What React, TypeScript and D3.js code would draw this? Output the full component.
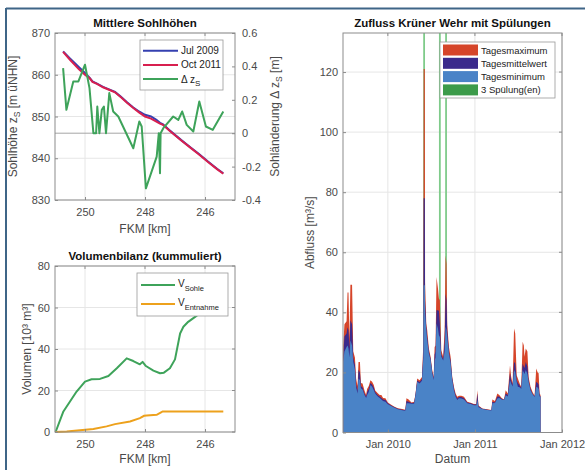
import { useEffect, useRef } from 'react'
import * as d3 from 'd3'

// Mittlere Sohlhöhen
const kmProfile = [250.73, 250.5, 250.2, 250.0, 249.85, 249.75, 249.6, 249.4, 249.2, 249.0, 248.8, 248.6, 248.4, 248.2, 248.0, 247.8, 247.62, 247.5, 247.4, 247.2, 247.0, 246.8, 246.5, 246.2, 245.9, 245.6, 245.39]
const zJul2009 = [865.6, 863.9, 861.8, 860.4, 859.3, 858.4, 857.9, 857.1, 856.5, 855.9, 854.7, 853.4, 852.2, 851.2, 850.4, 850.0, 849.2, 848.5, 848.1, 846.8, 845.6, 844.4, 842.7, 841.0, 839.2, 837.5, 836.4]
const zOct2011 = [865.5, 863.6, 861.3, 860.0, 859.2, 858.3, 857.8, 857.0, 856.4, 855.8, 854.6, 853.3, 852.1, 851.0, 850.0, 849.5, 848.8, 848.3, 848.0, 846.7, 845.5, 844.3, 842.6, 840.9, 839.1, 837.4, 836.3]
const kmDelta = [250.73, 250.62, 250.39, 250.22, 250.0, 249.85, 249.72, 249.63, 249.59, 249.52, 249.44, 249.37, 249.3, 249.19, 249.06, 248.89, 248.39, 248.19, 248.11, 247.97, 247.61, 247.54, 247.5, 247.48, 247.39, 247.06, 246.89, 246.76, 246.61, 246.39, 246.19, 245.97, 245.74, 245.39]
const deltaZ = [0.39, 0.14, 0.31, 0.31, 0.41, 0.27, 0.0, 0.0, 0.16, 0.0, 0.14, 0.16, 0.0, 0.24, 0.13, 0.1, -0.09, 0.07, 0.04, -0.33, -0.14, 0.0, -0.24, 0.0, 0.03, 0.1, 0.08, 0.13, 0.05, 0.01, 0.19, 0.04, 0.02, 0.13]

// Volumenbilanz
const kmSohle = [250.98, 250.72, 250.5, 250.28, 250.0, 249.78, 249.5, 249.22, 248.94, 248.61, 248.39, 248.17, 248.08, 247.97, 247.72, 247.5, 247.37, 247.17, 247.0, 246.83, 246.72, 246.56, 246.33, 246.1, 245.8, 245.6, 245.39]
const vSohle = [0, 9.9, 14.7, 19.5, 24.3, 25.4, 25.6, 27, 30.7, 35.5, 34.2, 32.6, 33.8, 31.8, 29.6, 28.3, 28.6, 30.7, 35, 47.5, 50.7, 53.1, 55.5, 58, 61, 63, 65]
const kmEntnahme = [250.98, 250.61, 250.17, 249.72, 249.28, 249.0, 248.5, 248.17, 248.03, 247.94, 247.61, 247.45, 247.41, 245.39]
const vEntnahme = [0, 0.3, 0.8, 1.4, 2.7, 3.8, 5.1, 6.7, 7.8, 8.0, 8.3, 9.6, 9.9, 9.9]

// Zufluss Krüner Wehr
const flowDates = [
  '2009-06-28', '2009-07-03', '2009-07-12', '2009-07-16', '2009-07-20', '2009-07-24', '2009-07-28', '2009-08-04', '2009-08-09', '2009-08-16',
  '2009-08-21', '2009-08-27', '2009-08-31', '2009-09-06', '2009-09-10', '2009-09-17', '2009-09-25', '2009-10-02', '2009-10-06', '2009-10-13',
  '2009-10-20', '2009-10-27', '2009-11-03', '2009-11-09', '2009-11-14', '2009-11-21', '2009-11-28', '2009-12-05', '2009-12-12', '2009-12-22',
  '2010-01-01', '2010-01-15', '2010-01-29', '2010-02-12', '2010-03-02', '2010-03-15', '2010-03-20', '2010-03-29', '2010-04-10', '2010-04-21',
  '2010-04-27', '2010-05-04', '2010-05-14', '2010-05-24', '2010-05-30', '2010-05-31', '2010-06-05', '2010-06-06', '2010-06-11', '2010-06-15', '2010-06-22',
  '2010-06-29', '2010-07-06', '2010-07-12', '2010-07-16', '2010-07-20', '2010-07-24', '2010-07-30', '2010-08-03', '2010-08-07', '2010-08-13',
  '2010-08-21', '2010-08-27', '2010-08-31', '2010-09-04', '2010-09-07', '2010-09-14', '2010-09-21', '2010-09-28', '2010-10-05', '2010-10-12',
  '2010-10-19', '2010-10-26', '2010-11-05', '2010-11-16', '2010-11-30', '2010-12-14', '2010-12-28', '2011-01-07', '2011-01-11', '2011-01-16',
  '2011-02-01', '2011-02-22', '2011-03-11', '2011-03-15', '2011-03-26', '2011-04-05', '2011-04-13', '2011-04-23', '2011-05-03', '2011-05-10',
  '2011-05-19', '2011-05-28', '2011-06-02', '2011-06-08', '2011-06-14', '2011-06-19', '2011-06-25', '2011-06-30', '2011-07-09', '2011-07-14',
  '2011-07-20', '2011-07-25', '2011-07-28', '2011-08-02', '2011-08-09', '2011-08-14', '2011-08-22', '2011-08-30', '2011-09-08', '2011-09-15',
  '2011-09-21', '2011-09-25', '2011-09-29', '2011-10-03',
]
const qMax = [
  29, 36, 37, 46.6, 46.6, 31, 49.2, 49.2, 27, 25,
  18, 15.5, 23.5, 23.5, 16.5, 16.3, 14, 12.5, 14.5, 15.5,
  17.4, 16.9, 15.8, 14, 13.6, 13, 12.5, 12.5, 11.5, 11.4,
  10, 9.2, 8.6, 8.1, 7.8, 7.6, 11.4, 11, 10, 10.2,
  13, 18, 17.4, 18.5, 30, 121, 121, 50, 36.3, 34, 28,
  25.2, 20.8, 18.5, 28.5, 29, 51.8, 48, 44.6, 44, 27.4,
  25.2, 34, 59, 56.2, 35.7, 28.5, 25.2, 18.5, 15.2, 13,
  11.9, 12.2, 12.2, 11.9, 10.2, 9.9, 9.5, 9.5, 14.1, 9,
  8, 7.7, 7.5, 11, 10.5, 13, 12.5, 11.5, 11, 14.1,
  13, 22.4, 18.5, 16.3, 34.6, 33, 19.1, 18, 16, 15.2,
  30.2, 29, 25.2, 28, 27, 18.5, 15.2, 13.6, 12.2, 21.3,
  20, 19.7, 13, 12.5,
]
const qMean = [
  25.7, 32, 33, 35, 34, 28, 37.4, 36, 25, 22.5,
  16, 14, 20.8, 20, 15.5, 15, 13, 12, 13.5, 14.5,
  16.5, 16, 15, 13.5, 13, 12.3, 12, 11.5, 11, 10.8,
  9.7, 9, 8.4, 7.9, 7.6, 7.4, 10.5, 10.2, 9.8, 9.9,
  12.7, 17.3, 16.8, 17.8, 27, 78, 78, 44, 35.2, 32, 27,
  24.6, 20.2, 18, 26, 27, 40.7, 40.7, 40.5, 36.3, 26,
  24.5, 30, 46.2, 44, 34, 27, 24, 18, 14.6, 12.4,
  11.3, 11.8, 11.8, 11.4, 10, 9.7, 9.3, 9.3, 13, 8.7,
  7.9, 7.6, 7.4, 10.2, 10, 12, 12, 11.2, 10.9, 13,
  12.5, 19.7, 17.3, 15.8, 23.5, 23, 17.5, 16.5, 15.5, 14.8,
  22.9, 22, 21.5, 23.5, 22, 17.5, 14.5, 13, 12, 16.9,
  16.5, 16, 12.5, 12,
]
const qMin = [
  23.5, 27, 28.5, 29, 28, 25, 30.7, 29, 23.5, 21,
  15, 13, 18, 17.5, 14.7, 14.3, 12.5, 11.5, 12.5, 13.5,
  15.8, 15.2, 14.1, 13, 12.5, 11.9, 11.5, 11, 10.5, 10.2,
  9.4, 8.8, 8.2, 7.7, 7.4, 7.2, 9.7, 9.7, 9.6, 9.6,
  12.4, 16.9, 16.3, 17.2, 25, 49, 49, 39.6, 34, 30.7, 26.3,
  24.1, 19.7, 17.5, 24, 25, 36.3, 34.6, 32.4, 31.8, 25.2,
  24, 27, 35.2, 34, 31.8, 26.3, 23, 17.4, 14, 11.9,
  10.8, 11.4, 11.3, 11, 9.7, 9.5, 9.1, 9.1, 10.8, 8.4,
  7.8, 7.5, 7.3, 9.7, 9.8, 11.3, 11.5, 11, 10.8, 12.4,
  12, 17.4, 16.3, 15.3, 20.8, 20, 16.9, 15.2, 15, 14.5,
  20.8, 20, 19.5, 20.8, 19.5, 16.9, 14.1, 12.8, 11.8, 15.2,
  15, 14.5, 12, 11.9,
]
const flushDates = ['2010-06-02', '2010-08-07', '2010-09-02']

const font = '"Liberation Sans", Arial, Helvetica, sans-serif'
const tickColor = '#4a4a4a'
const gridColor = '#e6e6e6'
const boxColor = '#8c8c8c'
const colors = {
  jul: '#3540b0',
  oct: '#d81f4f',
  delta: '#3ea35a',
  sohle: '#3ea35a',
  entnahme: '#eda11c',
  max: '#d6452a',
  mean: '#3b2a8c',
  min: '#4a83c7',
  flush: '#3c9b4a',
}

const topBox = { x0: 55, x1: 235, y0: 33, y1: 200 }
const volBox = { x0: 55, x1: 235, y0: 266, y1: 432 }
const flowBox = { x0: 343, x1: 562, y0: 33, y1: 432.5 }

const parse = d3.timeParse('%Y-%m-%d')

export default function App() {
  const refs = {
    zAxis: useRef<SVGGElement | null>(null),
    dzAxis: useRef<SVGGElement | null>(null),
    kmAxisTop: useRef<SVGGElement | null>(null),
    vAxis: useRef<SVGGElement | null>(null),
    kmAxisVol: useRef<SVGGElement | null>(null),
    qAxis: useRef<SVGGElement | null>(null),
    tAxis: useRef<SVGGElement | null>(null),
  }

  const xKmTop = d3.scaleLinear().domain([251, 245]).range([topBox.x0, topBox.x1])
  const xKmVol = d3.scaleLinear().domain([251, 245]).range([volBox.x0, volBox.x1])
  const yZ = d3.scaleLinear().domain([830, 870]).range([topBox.y1, topBox.y0])
  const yDz = d3.scaleLinear().domain([-0.4, 0.6]).range([topBox.y1, topBox.y0])
  const yV = d3.scaleLinear().domain([0, 80]).range([volBox.y1, volBox.y0])
  const xT = d3.scaleTime().domain([parse('2009-06-27')!, parse('2012-01-01')!]).range([flowBox.x0, flowBox.x1])
  const yQ = d3.scaleLinear().domain([0, 133]).range([flowBox.y1, flowBox.y0])

  const kmTicks = [250, 248, 246]
  const zTicks = [830, 840, 850, 860, 870]
  const dzTicks = [-0.4, -0.2, 0, 0.2, 0.4, 0.6]
  const vTicks = [0, 20, 40, 60, 80]
  const qTicks = [0, 20, 40, 60, 80, 100, 120]
  const tTicks = ['2010-01-01', '2011-01-01', '2012-01-01'].map((d) => parse(d)!)

  useEffect(() => {
    const style = (node: SVGGElement | null, axis: d3.Axis<any>) => {
      if (!node) return
      const g = d3.select(node)
      g.call(axis)
      g.select('.domain').remove()
      g.selectAll('.tick line').attr('stroke', boxColor)
      g.selectAll('.tick text').attr('fill', tickColor).attr('font-size', 11).attr('font-family', font)
    }
    const fmtDz = (v: number) => (v === 0 ? '0' : v.toFixed(1))
    const fmtInt = (v: d3.NumberValue) => String(Math.round(+v))
    style(refs.zAxis.current, d3.axisLeft(yZ).tickValues(zTicks).tickSize(-3).tickPadding(5).tickFormat(fmtInt))
    style(refs.dzAxis.current, d3.axisRight(yDz).tickValues(dzTicks).tickSize(-3).tickPadding(7).tickFormat((v) => fmtDz(+v)))
    style(refs.kmAxisTop.current, d3.axisBottom(xKmTop).tickValues(kmTicks).tickSize(-3).tickPadding(8).tickFormat(fmtInt))
    style(refs.vAxis.current, d3.axisLeft(yV).tickValues(vTicks).tickSize(-3).tickPadding(5).tickFormat(fmtInt))
    style(refs.kmAxisVol.current, d3.axisBottom(xKmVol).tickValues(kmTicks).tickSize(-3).tickPadding(8).tickFormat(fmtInt))
    style(refs.qAxis.current, d3.axisLeft(yQ).tickValues(qTicks).tickSize(-3).tickPadding(5).tickFormat(fmtInt))
    style(refs.tAxis.current, d3.axisBottom(xT).tickValues(tTicks).tickSize(-3).tickPadding(8).tickFormat((d) => d3.timeFormat('%b %Y')(d as Date)))
  }, [])

  const lineKm = (xs: number[], ys: number[], x: d3.ScaleLinear<number, number>, y: d3.ScaleLinear<number, number>) =>
    d3.line<number>().x((_, i) => x(xs[i])).y((v) => y(v))(ys) ?? ''

  const flowData = flowDates.map((d, i) => ({ date: parse(d)!, max: qMax[i], mean: qMean[i], min: qMin[i] }))
  const areaFor = (key: 'max' | 'mean' | 'min') =>
    d3
      .area<(typeof flowData)[number]>()
      .x((d) => xT(d.date))
      .y0(yQ(0))
      .y1((d) => yQ(d[key]))(flowData) ?? ''

  return (
    <svg width={585} height={470} style={{ position: 'absolute', left: 0, top: 0, background: '#fff' }} fontFamily={font}>
      {/* frame */}
      <line x1={6} y1={8.5} x2={585} y2={8.5} stroke="#3f6587" strokeWidth={2} />
      <line x1={6} y1={8} x2={6} y2={470} stroke="#3f6587" strokeWidth={2} />

      {/* ---------- Mittlere Sohlhöhen ---------- */}
      {kmTicks.map((k) => (
        <line key={k} x1={xKmTop(k)} x2={xKmTop(k)} y1={topBox.y0} y2={topBox.y1} stroke={gridColor} />
      ))}
      {zTicks.map((z) => (
        <line key={z} x1={topBox.x0} x2={topBox.x1} y1={yZ(z)} y2={yZ(z)} stroke={gridColor} />
      ))}
      <line x1={topBox.x0} x2={topBox.x1} y1={yDz(0)} y2={yDz(0)} stroke="#a6a6a6" strokeWidth={1} />
      <path d={lineKm(kmProfile, zJul2009, xKmTop, yZ)} fill="none" stroke={colors.jul} strokeWidth={2} />
      <path d={lineKm(kmProfile, zOct2011, xKmTop, yZ)} fill="none" stroke={colors.oct} strokeWidth={2} />
      <path d={lineKm(kmDelta, deltaZ, xKmTop, yDz)} fill="none" stroke={colors.delta} strokeWidth={2} strokeLinejoin="round" />
      <rect x={topBox.x0} y={topBox.y0} width={topBox.x1 - topBox.x0} height={topBox.y1 - topBox.y0} fill="none" stroke={boxColor} />
      {kmTicks.map((k) => (
        <line key={k} x1={xKmTop(k)} x2={xKmTop(k)} y1={topBox.y0} y2={topBox.y0 + 3} stroke={boxColor} />
      ))}
      <g ref={refs.zAxis} transform={`translate(${topBox.x0},0)`} />
      <g ref={refs.dzAxis} transform={`translate(${topBox.x1},0)`} />
      <g ref={refs.kmAxisTop} transform={`translate(0,${topBox.y1})`} />
      <text x={(topBox.x0 + topBox.x1) / 2} y={27} textAnchor="middle" fontSize={11.5} fontWeight="bold" fill="#111">
        Mittlere Sohlhöhen
      </text>
      <text x={(topBox.x0 + topBox.x1) / 2} y={233} textAnchor="middle" fontSize={12} fill={tickColor}>
        FKM [km]
      </text>
      <text transform={`translate(17 ${(topBox.y0 + topBox.y1) / 2}) rotate(-90)`} textAnchor="middle" fontSize={12} fill={tickColor}>
        Sohlhöhe z<tspan dy={3} fontSize={8.5}>S</tspan>
        <tspan dy={-3}> [m üNHN]</tspan>
      </text>
      <text transform={`translate(279 ${(topBox.y0 + topBox.y1) / 2}) rotate(-90)`} textAnchor="middle" fontSize={12} fill={tickColor}>
        Sohländerung Δ z<tspan dy={3} fontSize={8.5}>S</tspan>
        <tspan dy={-3}> [m]</tspan>
      </text>
      <g transform="translate(140,40)">
        <rect width={83} height={50} fill="#fff" stroke="#9a9a9a" strokeWidth={0.8} />
        {[
          { label: 'Jul 2009', color: colors.jul },
          { label: 'Oct 2011', color: colors.oct },
          { label: 'Δ z', color: colors.delta, sub: 'S' },
        ].map((e, i) => (
          <g key={e.label} transform={`translate(0,${10.7 + i * 14.2})`}>
            <line x1={3} x2={38} y1={0} y2={0} stroke={e.color} strokeWidth={2} />
            <text x={41} y={3.5} fontSize={10} fill="#222">
              {e.label}
              {e.sub && (
                <tspan dy={3} fontSize={8}>
                  {e.sub}
                </tspan>
              )}
            </text>
          </g>
        ))}
      </g>

      {/* ---------- Volumenbilanz ---------- */}
      {kmTicks.map((k) => (
        <line key={k} x1={xKmVol(k)} x2={xKmVol(k)} y1={volBox.y0} y2={volBox.y1} stroke={gridColor} />
      ))}
      {vTicks.map((v) => (
        <line key={v} x1={volBox.x0} x2={volBox.x1} y1={yV(v)} y2={yV(v)} stroke={gridColor} />
      ))}
      <path d={lineKm(kmSohle, vSohle, xKmVol, yV)} fill="none" stroke={colors.sohle} strokeWidth={2} strokeLinejoin="round" />
      <path d={lineKm(kmEntnahme, vEntnahme, xKmVol, yV)} fill="none" stroke={colors.entnahme} strokeWidth={2} />
      <rect x={volBox.x0} y={volBox.y0} width={volBox.x1 - volBox.x0} height={volBox.y1 - volBox.y0} fill="none" stroke={boxColor} />
      {kmTicks.map((k) => (
        <line key={k} x1={xKmVol(k)} x2={xKmVol(k)} y1={volBox.y0} y2={volBox.y0 + 3} stroke={boxColor} />
      ))}
      {vTicks.map((v) => (
        <line key={v} x1={volBox.x1 - 3} x2={volBox.x1} y1={yV(v)} y2={yV(v)} stroke={boxColor} />
      ))}
      <g ref={refs.vAxis} transform={`translate(${volBox.x0},0)`} />
      <g ref={refs.kmAxisVol} transform={`translate(0,${volBox.y1})`} />
      <text x={(volBox.x0 + volBox.x1) / 2} y={260} textAnchor="middle" fontSize={11.5} fontWeight="bold" fill="#111">
        Volumenbilanz (kummuliert)
      </text>
      <text x={(volBox.x0 + volBox.x1) / 2} y={463} textAnchor="middle" fontSize={12} fill={tickColor}>
        FKM [km]
      </text>
      <text transform={`translate(31 ${(volBox.y0 + volBox.y1) / 2}) rotate(-90)`} textAnchor="middle" fontSize={12} fill={tickColor}>
        Volumen [10³ m³]
      </text>
      <g transform="translate(137,273)">
        <rect width={91} height={43} fill="#fff" stroke="#9a9a9a" strokeWidth={0.8} />
        {[
          { label: 'Sohle', color: colors.sohle },
          { label: 'Entnahme', color: colors.entnahme },
        ].map((e, i) => (
          <g key={e.label} transform={`translate(0,${12 + i * 19})`}>
            <line x1={4} x2={38} y1={0} y2={0} stroke={e.color} strokeWidth={2} />
            <text x={41} y={2} fontSize={10} fill="#222">
              V
              <tspan dy={4} fontSize={7.5}>
                {e.label}
              </tspan>
            </text>
          </g>
        ))}
      </g>

      {/* ---------- Zufluss Krüner Wehr ---------- */}
      {tTicks.map((t) => (
        <line key={+t} x1={xT(t)} x2={xT(t)} y1={flowBox.y0} y2={flowBox.y1} stroke={gridColor} />
      ))}
      {qTicks.map((q) => (
        <line key={q} x1={flowBox.x0} x2={flowBox.x1} y1={yQ(q)} y2={yQ(q)} stroke={gridColor} />
      ))}
      {flushDates.map((d) => (
        <line key={d} x1={xT(parse(d)!)} x2={xT(parse(d)!)} y1={flowBox.y0} y2={flowBox.y1} stroke="#7fcb8a" strokeWidth={1.8} />
      ))}
      <path d={areaFor('max')} fill={colors.max} />
      <path d={areaFor('mean')} fill={colors.mean} />
      <path d={areaFor('min')} fill={colors.min} />
      <rect x={flowBox.x0} y={flowBox.y0} width={flowBox.x1 - flowBox.x0} height={flowBox.y1 - flowBox.y0} fill="none" stroke={boxColor} />
      {tTicks.map((t) => (
        <line key={+t} x1={xT(t)} x2={xT(t)} y1={flowBox.y0} y2={flowBox.y0 + 3} stroke={boxColor} />
      ))}
      {qTicks.map((q) => (
        <line key={q} x1={flowBox.x1 - 3} x2={flowBox.x1} y1={yQ(q)} y2={yQ(q)} stroke={boxColor} />
      ))}
      <g ref={refs.qAxis} transform={`translate(${flowBox.x0},0)`} />
      <g ref={refs.tAxis} transform={`translate(0,${flowBox.y1})`} />
      <text x={(flowBox.x0 + flowBox.x1) / 2} y={27} textAnchor="middle" fontSize={11.5} fontWeight="bold" fill="#111">
        Zufluss Krüner Wehr mit Spülungen
      </text>
      <text x={(flowBox.x0 + flowBox.x1) / 2} y={463} textAnchor="middle" fontSize={12} fill={tickColor}>
        Datum
      </text>
      <text transform={`translate(314 ${(flowBox.y0 + flowBox.y1) / 2}) rotate(-90)`} textAnchor="middle" fontSize={12} fill={tickColor}>
        Abfluss [m³/s]
      </text>
      <g transform="translate(440,42)">
        <rect width={115} height={56} fill="#fff" stroke="#9a9a9a" strokeWidth={0.8} />
        {[
          { label: 'Tagesmaximum', color: colors.max },
          { label: 'Tagesmittelwert', color: colors.mean },
          { label: 'Tagesminimum', color: colors.min },
          { label: '3 Spülung(en)', color: colors.flush },
        ].map((e, i) => (
          <g key={e.label} transform={`translate(0,${8 + i * 13.3})`}>
            <rect x={3} y={-5.5} width={35} height={11} fill={e.color} />
            <text x={41} y={3.5} fontSize={9.5} fill="#222">
              {e.label}
            </text>
          </g>
        ))}
      </g>
    </svg>
  )
}
